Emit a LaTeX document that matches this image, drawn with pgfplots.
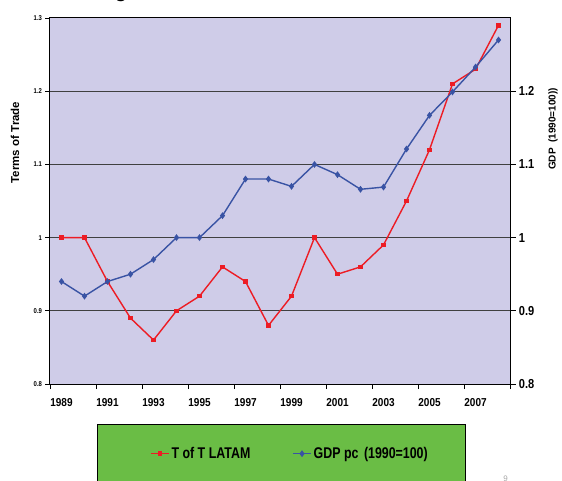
\documentclass[border=0pt]{standalone}
\usepackage{fontspec}
\setmainfont{Liberation Sans}
\usepackage{graphicx}
\usepackage{pgfplots}
\pgfplotsset{compat=1.18}
\definecolor{lav}{RGB}{207,204,232}
\definecolor{tred}{RGB}{237,28,36}
\definecolor{gblue}{RGB}{57,83,164}
\definecolor{lgreen}{RGB}{106,189,69}
\begin{document}
\begin{tikzpicture}
\useasboundingbox (0pt,0pt) rectangle (562pt,480pt);
\fill[lgreen] (97pt,-5pt) rectangle (465pt,56pt);
\draw[black, line width=0.8pt] (97pt,-5pt) rectangle (465pt,56pt);
\node[font=\fontsize{20}{24}\selectfont\bfseries, anchor=base] at (121pt,482.5pt) {g};
\node[text=black!35, font=\fontsize{8}{9}\selectfont, anchor=base] at (505.5pt,-1pt) {9};
\begin{axis}[
  at={(50pt,96pt)}, anchor=south west, scale only axis, width=460pt, height=366pt,
  xmin=1988.5, xmax=2008.5, ymin=0.8, ymax=1.3,
  axis background/.style={fill=lav},
  axis line style={black, line width=1pt},
  xtick={1988.5,1990.5,...,2008.5}, xticklabels={},
  extra x ticks={1989,1991,...,2007},
  extra x tick labels={1989,1991,1993,1995,1997,1999,2001,2003,2005,2007},
  extra x tick style={major tick length=0pt, xticklabel style={yshift=-11pt}},
  ytick={0.8,0.9,1,1.1,1.2,1.3}, yticklabels={0.8,0.9,1,1.1,1.2,1.3},
  ymajorgrids, grid style={black!75, line width=1pt},
  tick align=outside, major tick length=5pt, tick style={black, line width=0.8pt},
  xtick pos=left, ytick pos=left,
  xticklabel style={font=\fontsize{11.5}{13}\selectfont\bfseries, xscale=0.87},
  yticklabel style={font=\fontsize{7}{8}\selectfont\bfseries, xscale=0.85},
]
\addplot[tred, line width=1.4pt, mark=square*, mark size=1.5pt] coordinates {
(1989,1.00) (1990,1.00) (1991,0.94) (1992,0.89) (1993,0.86) (1994,0.90) (1995,0.92)
(1996,0.96) (1997,0.94) (1998,0.88) (1999,0.92) (2000,1.00) (2001,0.95) (2002,0.96)
(2003,0.99) (2004,1.05) (2005,1.12) (2006,1.21) (2007,1.23) (2008,1.29)};
\end{axis}
\begin{axis}[
  at={(50pt,96pt)}, anchor=south west, scale only axis, width=460pt, height=366pt,
  xmin=1988.5, xmax=2008.5, ymin=0.8, ymax=1.3,
  axis x line=none, axis y line*=right,
  axis line style={black, line width=1pt},
  ytick={0.8,0.9,1,1.1,1.2}, yticklabels={0.8,0.9,1,1.1,1.2},
  tick align=outside, major tick length=6pt, tick style={black, line width=0.8pt},
  yticklabel style={font=\fontsize{13}{15}\selectfont\bfseries, xscale=0.85},
  legend columns=2,
  legend image code/.code={\draw[mark repeat=2,mark phase=2,#1] plot coordinates {(0pt,0pt) (9pt,0pt) (18pt,0pt)};},
  legend style={at={(0.5217,-0.1904)}, anchor=center, draw=none, fill=none,
    font=\fontsize{15.5}{18}\selectfont\bfseries,
    /tikz/every even column/.append style={column sep=40pt}},
]
\addlegendimage{tred, line width=1.4pt, mark=square*, mark size=1.5pt}
\addlegendentry{\scalebox{0.8}[1]{T of T LATAM}}
\addplot[gblue, line width=1.4pt, mark=diamond*, mark size=2.3pt] coordinates {
(1989,0.94) (1990,0.92) (1991,0.94) (1992,0.95) (1993,0.97) (1994,1.00) (1995,1.00)
(1996,1.03) (1997,1.08) (1998,1.08) (1999,1.07) (2000,1.10) (2001,1.086) (2002,1.066)
(2003,1.069) (2004,1.121) (2005,1.167) (2006,1.199) (2007,1.233) (2008,1.270)};
\addlegendentry{\scalebox{0.8}[1]{GDP pc\,\ (1990=100)}}
\end{axis}
\node[rotate=90, font=\fontsize{11.5}{13}\selectfont\bfseries] at (15pt,337.5pt) {Terms of Trade};
\node[rotate=90, font=\fontsize{10}{12}\selectfont\bfseries] at (553pt,351pt) {GDP\ \ (1990=100))};
\end{tikzpicture}
\end{document}
